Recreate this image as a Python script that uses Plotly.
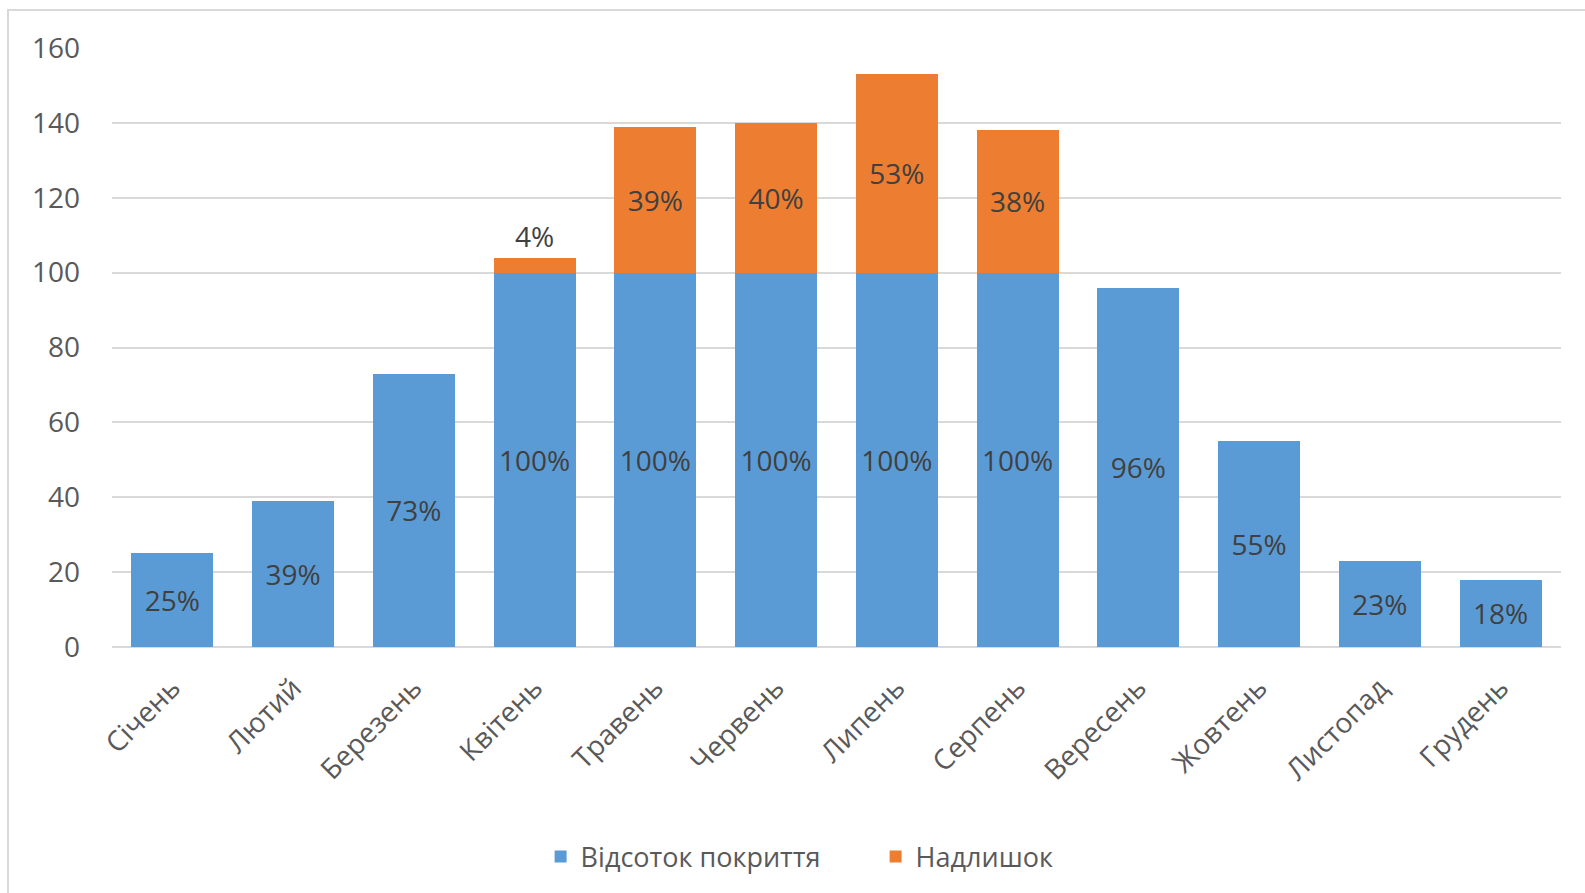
import plotly.graph_objects as go

months = ["Січень", "Лютий", "Березень", "Квітень", "Травень", "Червень",
          "Липень", "Серпень", "Вересень", "Жовтень", "Листопад", "Грудень"]
coverage = [25, 39, 73, 100, 100, 100, 100, 100, 96, 55, 23, 18]
surplus = [0, 0, 0, 4, 39, 40, 53, 38, 0, 0, 0, 0]

BLUE = "#5b9bd5"
ORANGE = "#ed7d31"
FONT = "Open Sans"
W, H = 1585, 893
L, R, T, B = 112, 24, 48, 246

surplus_text = [f"{v}%" if v else "" for v in surplus]
surplus_pos = ["outside" if 0 < v < 10 else "inside" for v in surplus]

fig = go.Figure()
fig.add_trace(go.Bar(
    x=months, y=coverage, name="Відсоток покриття",
    marker=dict(color=BLUE, line=dict(width=0)),
    text=[f"{v}%" for v in coverage], textposition="inside",
    insidetextanchor="middle",
    textfont=dict(family=FONT, size=28, color="#404040"),
))
fig.add_trace(go.Bar(
    x=months, y=surplus, name="Надлишок",
    marker=dict(color=ORANGE, line=dict(width=0)),
    text=surplus_text, textposition=surplus_pos,
    insidetextanchor="middle",
    textfont=dict(family=FONT, size=28, color="#404040"),
    cliponaxis=False,
))

pw = W - L - R
ph = H - T - B

fig.update_layout(
    width=W, height=H,
    barmode="stack", bargap=0.32,
    plot_bgcolor="white", paper_bgcolor="white",
    margin=dict(l=L, r=R, t=T, b=B),
    font=dict(family=FONT, size=28, color="#595959"),
    legend=dict(orientation="h", x=0.527, xanchor="center",
                y=(T + ph - 857) / ph, yanchor="middle",
                font=dict(family=FONT, size=27, color="#595959"),
                entrywidth=290, traceorder="normal"),
    xaxis=dict(tickangle=-45, showgrid=False, showline=False, ticks="",
               ticklabelstandoff=18,
               tickfont=dict(family=FONT, size=28, color="#595959")),
    yaxis=dict(range=[0, 160], dtick=20, showgrid=True, gridcolor="#d9d9d9",
               gridwidth=2, zeroline=True, zerolinecolor="#d9d9d9",
               zerolinewidth=2, showline=False, ticks="",
               ticklabelstandoff=31,
               tickfont=dict(family=FONT, size=28, color="#595959")),
    shapes=[dict(type="rect", xref="paper", yref="paper",
                 x0=(8 - L) / pw, x1=(W + 10 - L) / pw,
                 y0=(T + ph - H - 10) / ph, y1=(T + ph - 10) / ph,
                 line=dict(color="#d9d9d9", width=2), fillcolor="rgba(0,0,0,0)",
                 layer="below")],
)

fig.write_html("out.html")
